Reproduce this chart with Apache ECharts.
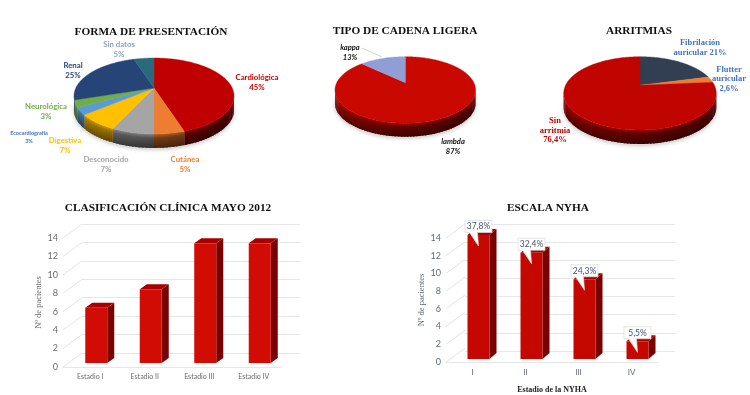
<!DOCTYPE html>
<html><head><meta charset="utf-8">
<style>html,body{margin:0;padding:0;background:#fff}#c{width:750px;height:395px;filter:blur(0.4px)}</style>
<script src="https://cdn.jsdelivr.net/npm/echarts@6/dist/echarts.min.js"></script>
</head><body><div id="c"></div>
<script>
// ---- data
var formaNames = ['Cardiológica','Cutánea','Desconocido','Digestiva','Ecocardiografía','Neurológica','Renal','Sin datos'];
var formaValues = [45,5,7,7,3,3,25,5];
var cadenaNames = ['lambda','kappa'];
var cadenaValues = [87,13];
var arritmiaLabels = ['Fibrilación\nauricular 21%','Flutter\nauricular\n2,6%','Sin\narritmia\n76,4%'];
var arritmiaValues = [21,2.6,76.4];
var estadios = ['Estadio I','Estadio II','Estadio III','Estadio IV'];
var clinicaValues = [6,8,13,13];
var nyhaCats = ['I','II','III','IV'];
var nyhaValues = [14,12,9,2];
var nyhaPct = ['37,8%','32,4%','24,3%','5,5%'];
var yTicks = [0,2,4,6,8,10,12,14];

// ---- styles and layout
var SERIF = '"Liberation Serif",serif', SANS = 'Lato,"Open Sans",sans-serif';
var formaColors = ['#c00000','#ed7d31','#a5a5a5','#ffc000','#5b9bd5','#70ad47','#264478','#296a7d'];
var formaText = ['#c00000','#ed7d31','#a5a5a5','#ffc000','#4472c4','#70ad47','#264478','#8ea3c4'];
var formaAt = [[257,82],[185,164],[106,164],[65,145],[29,137],[46,111],[73,70],[119,49]];
var cadenaColors = ['#c90800','#8f9fd6'];
var cadenaAt = [[453,147],[350,52.5]];
var arritmiaColors = ['#323f52','#ed7d31','#c00500'];
var arritmiaText = ['#4472c4','#4472c4','#c00000'];
var arritmiaAt = [[700,47.5],[729,79],[555,130.5]];

function shade(hex,f){
  var n=parseInt(hex.slice(1),16);
  var c=[n>>16&255,n>>8&255,n&255].map(function(x){return Math.round(x*f);});
  return 'rgb('+c.join(',')+')';
}
function geom(p){
  p.k=(p.near-p.far)/(p.near+p.far);
  p.b=p.far*(1+p.k);
  p.a=p.rx*Math.sqrt(1-p.k*p.k);
  return p;
}
function project(p,deg){
  var t=deg*Math.PI/180,u=Math.sin(t),v=-Math.cos(t),w=1-p.k*v;
  return [p.x+p.a*u/w,p.y+p.b*v/w];
}
function pieSeries(p,values,colors,labelFor){
  geom(p);
  var total=values.reduce(function(a,b){return a+b;},0);
  return {
    type:'custom',coordinateSystem:'none',silent:true,
    data:values.map(function(v){return [v];}),
    renderItem:function(params,api){
      var i=params.dataIndex,val=api.value(0),before=0;
      for(var j=0;j<i;j++)before+=values[j];
      var a0=before/total*360,a1=(before+val)/total*360,ch=[],d;
      if(i===0){
        var sh=[];
        for(d=0;d<360;d+=4){var q=project(p,d);sh.push([q[0],q[1]+p.depth+1.5]);}
        ch.push({type:'polygon',shape:{points:sh},style:{fill:'#dcdcdc',shadowBlur:4,shadowColor:'rgba(0,0,0,0.25)'}});
      }
      var col=colors[i];
      for(d=a0;d<a1;d+=2){
        var e=Math.min(d+3,a1),vm=-Math.cos((d+1)*Math.PI/180);
        if(vm<p.k-0.02)continue;
        var A=project(p,d),B=project(p,e);
        var sx=Math.sin((d+1)*Math.PI/180);
        var f=0.62-0.16*sx-0.14*Math.max(0,vm);
        ch.push({type:'polygon',shape:{points:[A,B,[B[0],B[1]+p.depth],[A[0],A[1]+p.depth]]},
          style:{fill:new echarts.graphic.LinearGradient(0,0,0,1,[
            {offset:0,color:shade(col,Math.min(1,f+0.28))},{offset:0.3,color:shade(col,f)},{offset:1,color:shade(col,f*0.62)}])}});
      }
      var pts=[[p.x,p.y]];
      for(d=a0;d<a1;d+=1)pts.push(project(p,d));
      pts.push(project(p,a1));
      ch.push({type:'polygon',shape:{points:pts},style:{fill:col,stroke:col,lineWidth:0.4}});
      var L=labelFor(i,val);
      ch.push({type:'text',z2:20,style:{x:L.at[0],y:L.at[1],text:L.text,fill:L.fill,fontFamily:L.family,fontWeight:'bold',
        fontStyle:L.italic?'italic':'normal',fontSize:L.size,lineHeight:L.lh,align:'center',verticalAlign:'middle'}});
      if(L.leader)ch.push({type:'polyline',shape:{points:L.leader},style:{fill:'none',stroke:'#bfbfbf',lineWidth:0.7}});
      return {type:'group',children:ch};
    }
  };
}
function barSeries(gridIdx,values,cfg){
  return {
    type:'custom',coordinateSystem:'cartesian2d',xAxisIndex:gridIdx,yAxisIndex:gridIdx,silent:true,z:5,clip:false,
    data:values.map(function(v,i){return [i,v];}),
    encode:{x:0,y:1},
    renderItem:function(params,api){
      var base=api.coord([api.value(0),0]),top=api.coord([api.value(0),api.value(1)]);
      var hw=cfg.width/2,l=base[0]+cfg.ox-hw,r=base[0]+cfg.ox+hw,b=base[1]+cfg.oy,t=top[1]+cfg.oy;
      var ch=[
        {type:'polygon',shape:{points:[[r,t],[r+cfg.dx,t+cfg.dy],[r+cfg.dx,b+cfg.dy],[r,b]]},style:{fill:'#7a0000'}},
        {type:'polygon',shape:{points:[[l,t],[r,t],[r+cfg.dx,t+cfg.dy],[l+cfg.dx,t+cfg.dy]]},style:{fill:'#a80000'}},
        {type:'rect',shape:{x:l,y:t,width:r-l,height:b-t},style:{fill:cfg.color}}
      ];
      if(cfg.notes){
        var i=params.dataIndex,c=(l+r)/2,bt=t-14.5,bb=t-2.5,bw=13.5;
        ch.push({type:'polygon',z2:10,shape:{points:[[c-bw,bt],[c+bw,bt],[c+bw,bb],[c-1,bb],[c,t+11],[c-9,bb],[c-bw,bb]]},
          style:{fill:'#fff',stroke:'#d9d9d9',lineWidth:0.7}});
        ch.push({type:'text',z2:11,style:{x:c,y:(bt+bb)/2,text:cfg.notes[i],fill:'#44546a',fontFamily:SANS,fontSize:8.5,align:'center',verticalAlign:'middle'}});
      }
      return {type:'group',children:ch};
    }
  };
}
function diagSeries(gridIdx,dx,dy){
  return {
    type:'custom',coordinateSystem:'cartesian2d',xAxisIndex:gridIdx,yAxisIndex:gridIdx,silent:true,z:1,clip:false,
    data:yTicks.map(function(v){return [0,v];}),
    encode:{x:0,y:1},
    renderItem:function(params,api){
      var y=api.coord([0,api.value(1)])[1],x=params.coordSys.x;
      return {type:'line',shape:{x1:x,y1:y,x2:x+dx,y2:y+dy},style:{stroke:'#e4e4e4',lineWidth:1}};
    }
  };
}
var gridLine={show:true,lineStyle:{color:'#e6e6e6',width:1}};
function frontAxes(cats,labelColor,catSize,nameGap,margin){
  return {
    x:{type:'category',gridIndex:0,data:cats,axisTick:{show:false},axisLine:{show:true,lineStyle:{color:'#e6e6e6'}},
      axisLabel:{color:labelColor,fontSize:catSize,fontFamily:SANS,margin:margin},splitLine:{show:false}},
    y:{type:'value',min:0,max:14,interval:2,axisLine:{show:false},axisTick:{show:false},splitLine:{show:false},
      axisLabel:{color:labelColor,fontSize:9,fontFamily:SANS,margin:5},
      name:'Nº de pacientes',nameLocation:'middle',nameGap:nameGap,nameRotate:90,
      nameTextStyle:{color:labelColor,fontSize:8.5,fontFamily:SERIF}}
  };
}
var fa=frontAxes(estadios,'#6b6b6b',7,13,6),fb=frontAxes(nyhaCats,'#5f6b7d',8,17,6);
function title(text,x,y){
  return {text:text,left:x-5,top:y,textAlign:'center',textStyle:{fontFamily:SERIF,fontWeight:'bold',fontSize:11.3,color:'#111'}};
}
var option={
  animation:false,backgroundColor:'#fff',
  title:[title('FORMA DE PRESENTACIÓN',151,21.5),title('TIPO DE CADENA LIGERA',405,21),title('ARRITMIAS',639,21),
         title('CLASIFICACIÓN CLÍNICA MAYO 2012',168,197.5),title('ESCALA NYHA',548,197.5)],
  grid:[
    {left:63,width:218,top:238,height:129},
    {left:82,width:218,top:224,height:129},
    {left:446,width:212,top:238,height:126},
    {left:465,width:210,top:224,height:127}
  ],
  xAxis:[
    Object.assign({},fa.x,{gridIndex:0}),
    {type:'category',gridIndex:1,data:estadios,show:false},
    Object.assign({},fb.x,{gridIndex:2,name:'Estadio de la NYHA',nameLocation:'middle',nameGap:24,
      nameTextStyle:{color:'#222',fontSize:8,fontWeight:'bold',fontFamily:SERIF}}),
    {type:'category',gridIndex:3,data:nyhaCats,show:false}
  ],
  yAxis:[
    Object.assign({},fa.y,{gridIndex:0}),
    {type:'value',gridIndex:1,min:0,max:14,interval:2,axisLabel:{show:false},axisLine:{show:false},axisTick:{show:false},splitLine:gridLine},
    Object.assign({},fb.y,{gridIndex:2}),
    {type:'value',gridIndex:3,min:0,max:14,interval:2,axisLabel:{show:false},axisLine:{show:false},axisTick:{show:false},splitLine:gridLine}
  ],
  series:[
    pieSeries({x:154,y:88,rx:80,far:30,near:46,depth:14},formaValues,formaColors,function(i,v){
      var small=i===4;
      return {at:formaAt[i],text:formaNames[i]+'\n'+v+'%',fill:formaText[i],family:SANS,size:small?5.5:7.8,lh:small?8:10};
    }),
    pieSeries({x:405.3,y:82.7,rx:70.3,far:26,near:40.5,depth:13.5},cadenaValues,cadenaColors,function(i,v){
      return {at:cadenaAt[i],text:cadenaNames[i]+'\n'+v+'%',fill:'#111',family:SANS,italic:true,size:7.5,lh:10,
        leader:i===1?[[362,48],[382,57]]:null};
    }),
    pieSeries({x:640,y:85.3,rx:76.3,far:28.6,near:44.7,depth:14},arritmiaValues,arritmiaColors,function(i){
      return {at:arritmiaAt[i],text:arritmiaLabels[i],fill:arritmiaText[i],family:SERIF,size:8.5,lh:9.6};
    }),
    diagSeries(0,19,-14),
    barSeries(0,clinicaValues,{width:22,ox:6,oy:-4,dx:7,dy:-5,color:'#d00c04'}),
    diagSeries(2,19,-14),
    barSeries(2,nyhaValues,{width:22,ox:6,oy:-3,dx:7,dy:-6,color:'#c40800',notes:nyhaPct})
  ]
};
echarts.init(document.getElementById('c')).setOption(option);
</script></body></html>
